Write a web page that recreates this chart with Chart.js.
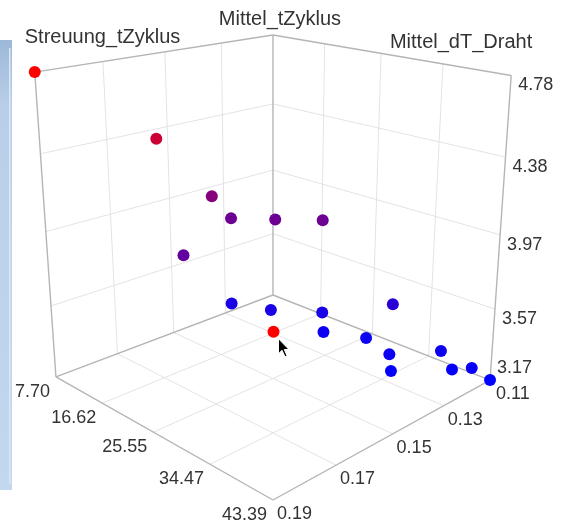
<!DOCTYPE html>
<html>
<head>
<meta charset="utf-8">
<script src="https://cdn.jsdelivr.net/npm/chart.js@4"></script>
<style>
  html, body { margin: 0; padding: 0; background: #fff; }
  canvas { display: block; }
</style>
</head>
<body>
<canvas id="chart" width="562" height="526"></canvas>
<script>
// Achsenbereiche und Beschriftungen
const mittelTZyklusRange = [7.70, 43.39];
const streuungTZyklusRange = [0.11, 0.19];
const mittelDTDrahtRange = [3.17, 4.78];
const mittelTZyklusTicks = ["7.70", "16.62", "25.55", "34.47", "43.39"];
const streuungTZyklusTicks = ["0.11", "0.13", "0.15", "0.17", "0.19"];
const mittelDTDrahtTicks = ["3.17", "3.57", "3.97", "4.38", "4.78"];

// Messpunkte
const mittelTZyklus = [7.70, 16.87, 12.55, 12.48, 16.52, 20.80, 15.09, 12.09, 17.05, 19.12,
                       22.01, 23.44, 29.76, 28.29, 33.15, 34.72, 36.89, 39.43, 41.61, 43.39];
const streuungTZyklus = [0.1900, 0.1704, 0.1442, 0.1371, 0.1289, 0.1200, 0.1595, 0.1365, 0.1318, 0.1354,
                         0.1226, 0.1255, 0.1131, 0.1201, 0.1234, 0.1269, 0.1120, 0.1146, 0.1128, 0.1100];
const mittelDTDraht = [4.78, 4.46, 4.01, 3.85, 3.85, 3.85, 3.78, 3.33, 3.33, 3.25,
                       3.33, 3.25, 3.43, 3.25, 3.25, 3.20, 3.25, 3.20, 3.23, 3.17];
const hoverIndex = 9; // Punkt unter dem Mauszeiger

const W = 562, H = 526;

// Perspektive: Einheitswürfel (u, v, w) -> Bildebene
const VIEW = [
  [140.4, -225.8, -20.5, 273],
  [25.6, 23.0, -262.6, 295],
  [-0.1564, -0.1564, -0.075, 1]
];
function project(u, v, w) {
  const d = VIEW[2][0] * u + VIEW[2][1] * v + VIEW[2][2] * w + VIEW[2][3];
  return {
    x: (VIEW[0][0] * u + VIEW[0][1] * v + VIEW[0][2] * w + VIEW[0][3]) / d,
    y: (VIEW[1][0] * u + VIEW[1][1] * v + VIEW[1][2] * w + VIEW[1][3]) / d
  };
}
const norm = (val, r) => (val - r[0]) / (r[1] - r[0]);

// Farbe nach Mittel_dT_Draht: blau (niedrig) -> rot (hoch)
function heatColor(z) {
  const f = Math.min(1, Math.max(0, norm(z, mittelDTDrahtRange)));
  return `rgb(${Math.round(255 * f)},0,${Math.round(255 * (1 - f))})`;
}

const points = mittelTZyklus.map((m, i) =>
  project(norm(m, mittelTZyklusRange), norm(streuungTZyklus[i], streuungTZyklusRange), norm(mittelDTDraht[i], mittelDTDrahtRange)));
const colors = mittelDTDraht.map((z, i) => i === hoverIndex ? "rgb(255,0,0)" : heatColor(z));

function toPx(chart, p) {
  return { x: chart.scales.x.getPixelForValue(p.x), y: chart.scales.y.getPixelForValue(p.y) };
}

// Würfel, Gitter und Beschriftungen
const boxPlugin = {
  id: "box3d",
  beforeDatasetsDraw(chart) {
    const ctx = chart.ctx;
    const P = (u, v, w) => toPx(chart, project(u, v, w));
    const seg = (a, b) => { const p = P(...a), q = P(...b); ctx.moveTo(p.x, p.y); ctx.lineTo(q.x, q.y); };

    // Rahmenleiste links
    ctx.save();
    const g = ctx.createLinearGradient(0, 40, 0, 490);
    g.addColorStop(0, "#9db8d8");
    g.addColorStop(0.15, "#b9cfe9");
    g.addColorStop(1, "#c3d7ee");
    ctx.fillStyle = g;
    ctx.fillRect(0, 40, 12, 450);
    ctx.fillStyle = "#dbe7f5";
    ctx.fillRect(9, 48, 1.5, 436);
    ctx.restore();

    const fr = [0.25, 0.5, 0.75];
    ctx.save();
    ctx.lineWidth = 1;
    ctx.strokeStyle = "#e3e3e3";
    ctx.beginPath();
    fr.forEach(f => {
      // Boden
      seg([f, 0, 0], [f, 1, 0]);
      seg([0, f, 0], [1, f, 0]);
      // Wand links hinten
      seg([0, f, 0], [0, f, 1]);
      seg([0, 0, f], [0, 1, f]);
      // Wand rechts hinten
      seg([f, 0, 0], [f, 0, 1]);
      seg([0, 0, f], [1, 0, f]);
    });
    ctx.stroke();

    ctx.strokeStyle = "#b5b5b5";
    ctx.lineWidth = 1.4;
    ctx.beginPath();
    seg([0, 0, 0], [1, 0, 0]);
    seg([0, 0, 0], [0, 1, 0]);
    seg([1, 0, 0], [1, 1, 0]);
    seg([0, 1, 0], [1, 1, 0]);
    seg([0, 0, 0], [0, 0, 1]);
    seg([1, 0, 0], [1, 0, 1]);
    seg([0, 1, 0], [0, 1, 1]);
    seg([0, 0, 1], [1, 0, 1]);
    seg([0, 0, 1], [0, 1, 1]);
    ctx.stroke();

    // Achsenbeschriftung
    ctx.fillStyle = "#333";
    ctx.font = "18px 'Liberation Sans', Arial, sans-serif";
    ctx.textBaseline = "alphabetic";
    ctx.textAlign = "right";
    mittelTZyklusTicks.forEach((t, i) => {
      const p = P(i / 4, 1, 0);
      ctx.fillText(t, p.x - 6, p.y + 20);
    });
    ctx.textAlign = "left";
    streuungTZyklusTicks.forEach((t, i) => {
      const p = P(1, i / 4, 0);
      ctx.fillText(t, p.x + (i === 0 ? 6 : 4), p.y + 19);
    });
    mittelDTDrahtTicks.forEach((t, i) => {
      const p = P(1, 0, i / 4);
      ctx.fillText(t, p.x + 7, i === 0 ? p.y - 7 : p.y + 15);
    });

    ctx.font = "20px 'Liberation Sans', Arial, sans-serif";
    let p = P(0, 1, 1);
    ctx.textAlign = "left";
    ctx.fillText("Streuung_tZyklus", p.x - 10, p.y - 29);
    p = P(0, 0, 1);
    ctx.textAlign = "center";
    ctx.fillText("Mittel_tZyklus", p.x + 7, p.y - 10);
    p = P(1, 0, 1);
    ctx.textAlign = "right";
    ctx.fillText("Mittel_dT_Draht", p.x + 21, p.y - 27);
    ctx.restore();
  },
  afterDatasetsDraw(chart) {
    // Mauszeiger über dem markierten Punkt
    const ctx = chart.ctx;
    const p = toPx(chart, points[hoverIndex]);
    const x = p.x + 5, y = p.y + 7;
    ctx.save();
    ctx.beginPath();
    ctx.moveTo(x, y);
    ctx.lineTo(x, y + 15);
    ctx.lineTo(x + 3.5, y + 11.5);
    ctx.lineTo(x + 6.5, y + 18);
    ctx.lineTo(x + 8.5, y + 17);
    ctx.lineTo(x + 5.8, y + 10.8);
    ctx.lineTo(x + 10.5, y + 10.8);
    ctx.closePath();
    ctx.fillStyle = "#000";
    ctx.fill();
    ctx.lineWidth = 1;
    ctx.strokeStyle = "#fff";
    ctx.stroke();
    ctx.restore();
  }
};

new Chart(document.getElementById("chart"), {
  type: "scatter",
  data: {
    datasets: [{
      data: points,
      pointRadius: 6,
      pointHoverRadius: 6,
      pointBorderWidth: 0,
      pointBackgroundColor: colors,
      clip: false
    }]
  },
  options: {
    responsive: false,
    animation: false,
    events: [],
    layout: { padding: 0, autoPadding: false },
    plugins: { legend: { display: false }, tooltip: { enabled: false } },
    scales: {
      x: { type: "linear", min: 0, max: W, display: false },
      y: { type: "linear", min: 0, max: H, reverse: true, display: false }
    }
  },
  plugins: [boxPlugin]
});
</script>
</body>
</html>
